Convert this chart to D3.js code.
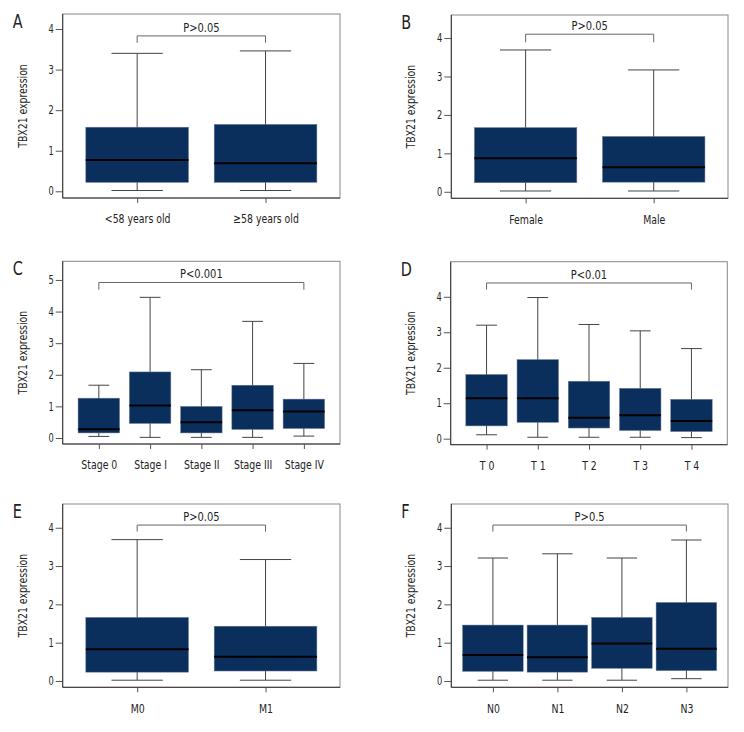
<!DOCTYPE html>
<html>
<head>
<meta charset="utf-8">
<script src="https://cdn.jsdelivr.net/npm/d3@7"></script>
<style>
  body { margin: 0; background: #fff; }
  text { font-family: "DejaVu Sans Condensed", "DejaVu Sans", sans-serif; fill: #222; }
</style>
</head>
<body>
<div id="chart"></div>
<script>
// Box plot values (TBX21 expression)
var catsA = ["<58 years old", "\u226558 years old"];
var lowA = [0.02, 0.02], q1A = [0.22, 0.22], medA = [0.77, 0.69], q3A = [1.58, 1.65], highA = [3.40, 3.46];

var catsB = ["Female", "Male"];
var lowB = [0.02, 0.02], q1B = [0.235, 0.25], medB = [0.87, 0.64], q3B = [1.67, 1.44], highB = [3.69, 3.17];

var catsC = ["Stage 0", "Stage I", "Stage II", "Stage III", "Stage IV"];
var lowC = [0.05, 0.02, 0.02, 0.02, 0.06], q1C = [0.16, 0.46, 0.16, 0.27, 0.30];
var medC = [0.28, 1.03, 0.50, 0.88, 0.84], q3C = [1.26, 2.09, 1.00, 1.67, 1.23];
var highC = [1.67, 4.45, 2.16, 3.69, 2.36];

var catsD = ["T 0", "T 1", "T 2", "T 3", "T 4"];
var lowD = [0.11, 0.04, 0.04, 0.04, 0.03], q1D = [0.36, 0.46, 0.30, 0.23, 0.20];
var medD = [1.14, 1.14, 0.59, 0.66, 0.50], q3D = [1.81, 2.23, 1.62, 1.42, 1.11];
var highD = [3.20, 3.98, 3.22, 3.04, 2.54];

var catsE = ["M0", "M1"];
var lowE = [0.02, 0.02], q1E = [0.23, 0.26], medE = [0.83, 0.63], q3E = [1.66, 1.43], highE = [3.69, 3.17];

var catsF = ["N0", "N1", "N2", "N3"];
var lowF = [0.02, 0.02, 0.02, 0.06], q1F = [0.25, 0.23, 0.33, 0.27];
var medF = [0.68, 0.62, 0.98, 0.84], q3F = [1.46, 1.46, 1.66, 2.05];
var highF = [3.21, 3.32, 3.21, 3.68];

var pLabels = ["P>0.05", "P>0.05", "P<0.001", "P<0.01", "P>0.05", "P>0.5"];
var bracketY = [3.83, 4.10, 4.92, 4.39, 4.07, 4.07];
var bracketLeg = [3.66, 3.89, 4.69, 4.20, 3.90, 3.90];
var yTickMax = [4, 4, 5, 4, 4, 4];

var svgWidth = 744;
var svgHeight = 732;

var svg = d3.select("#chart")
  .append("svg")
  .attr("width", svgWidth)
  .attr("height", svgHeight);

// frame of each panel plus the y domain that frame covers
var panels = [
  { id: "A", cats: catsA, low: lowA, q1: q1A, med: medA, q3: q3A, high: highA,
    x0: 62.7, x1: 340, y0: 14, y1: 198, dom: [-0.165, 4.37], pad: 0.58, boxW: 0.8 },
  { id: "B", cats: catsB, low: lowB, q1: q1B, med: medB, q3: q3B, high: highB,
    x0: 451.3, x1: 728, y0: 15, y1: 198.3, dom: [-0.17, 4.6], pad: 0.58, boxW: 0.8 },
  { id: "C", cats: catsC, low: lowC, q1: q1C, med: medC, q3: q3C, high: highC,
    x0: 62.7, x1: 340, y0: 261.3, y1: 444, dom: [-0.19, 5.59], pad: 0.705, boxW: 0.81 },
  { id: "D", cats: catsD, low: lowD, q1: q1D, med: medD, q3: q3D, high: highD,
    x0: 450.7, x1: 727.3, y0: 261.7, y1: 444.7, dom: [-0.17, 4.99], pad: 0.7, boxW: 0.81 },
  { id: "E", cats: catsE, low: lowE, q1: q1E, med: medE, q3: q3E, high: highE,
    x0: 62.7, x1: 340, y0: 504, y1: 687.3, dom: [-0.165, 4.62], pad: 0.58, boxW: 0.8 },
  { id: "F", cats: catsF, low: lowF, q1: q1F, med: medF, q3: q3F, high: highF,
    x0: 451.3, x1: 728, y0: 504, y1: 687.3, dom: [-0.165, 4.62], pad: 0.645, boxW: 0.94 }
];

var boxFill = "#0a2f5d";
var squeeze = 0.8; // the original uses a condensed face, so narrow the text

// squeeze text horizontally around its own anchor
function narrow(sel, k) {
  sel.each(function() {
    var t = d3.select(this);
    var xv = +t.attr("x") || 0;
    t.attr("x", xv / k).attr("transform", `scale(${k},1)`);
  });
}

panels.forEach(function(p, i) {
  var g = svg.append("g");

  var x = d3.scalePoint()
    .domain(p.cats)
    .range([p.x0, p.x1])
    .padding(p.pad);

  var y = d3.scaleLinear()
    .domain(p.dom)
    .range([p.y1, p.y0]);

  var bw = x.step() * p.boxW;

  // Panel letter
  g.append("text")
    .attr("transform", `translate(${p.x0 - 50}, ${p.y0 + 14}) scale(0.8,1)`)
    .attr("font-size", "20px")
    .text(p.id);

  // Y axis
  var leftAxis = d3.axisLeft(y)
    .tickValues(d3.range(0, yTickMax[i] + 1))
    .tickFormat(d3.format("d"))
    .tickSize(7)
    .tickPadding(2);

  var yAxis = g.append("g")
    .attr("transform", `translate(${p.x0}, 0)`)
    .call(leftAxis);
  yAxis.select(".domain").remove();
  yAxis.selectAll("line").attr("stroke", "#555");
  yAxis.selectAll("text").attr("font-size", "11.5px").attr("fill", "#222").call(narrow, squeeze);

  // X axis
  var bottomAxis = d3.axisBottom(x)
    .tickSize(5)
    .tickPadding(11);

  var xAxis = g.append("g")
    .attr("transform", `translate(0, ${p.y1})`)
    .call(bottomAxis);
  xAxis.select(".domain").remove();
  xAxis.selectAll("line").attr("stroke", "#555");
  xAxis.selectAll("text").attr("font-size", "13px").attr("fill", "#222").call(narrow, squeeze);

  // Y label
  g.append("text")
    .attr("transform", `translate(${p.x0 - 36}, ${(p.y0 + p.y1) / 2}) rotate(-90) scale(0.83,1)`)
    .attr("text-anchor", "middle")
    .attr("font-size", "12.5px")
    .text("TBX21 expression");

  var idx = d3.range(p.cats.length);

  // Whisker stems
  g.selectAll(".stem")
    .data(idx)
    .enter()
    .append("line")
    .attr("x1", d => x(p.cats[d]))
    .attr("x2", d => x(p.cats[d]))
    .attr("y1", d => y(p.low[d]))
    .attr("y2", d => y(p.high[d]))
    .attr("stroke", "#444")
    .attr("stroke-width", 1);

  // Whisker caps
  ["low", "high"].forEach(function(k) {
    g.selectAll(".cap-" + k)
      .data(idx)
      .enter()
      .append("line")
      .attr("x1", d => x(p.cats[d]) - bw / 4)
      .attr("x2", d => x(p.cats[d]) + bw / 4)
      .attr("y1", d => y(p[k][d]))
      .attr("y2", d => y(p[k][d]))
      .attr("stroke", "#444")
      .attr("stroke-width", 1);
  });

  // Boxes
  g.selectAll(".box")
    .data(idx)
    .enter()
    .append("rect")
    .attr("x", d => x(p.cats[d]) - bw / 2)
    .attr("width", bw)
    .attr("y", d => y(p.q3[d]))
    .attr("height", d => y(p.q1[d]) - y(p.q3[d]))
    .attr("fill", boxFill)
    .attr("stroke", "#6f8098")
    .attr("stroke-width", 0.5);

  // Medians
  g.selectAll(".median")
    .data(idx)
    .enter()
    .append("line")
    .attr("x1", d => x(p.cats[d]) - bw / 2)
    .attr("x2", d => x(p.cats[d]) + bw / 2)
    .attr("y1", d => y(p.med[d]))
    .attr("y2", d => y(p.med[d]))
    .attr("stroke", "#000")
    .attr("stroke-width", 2);

  // Frame
  g.append("rect")
    .attr("x", p.x0)
    .attr("y", p.y0)
    .attr("width", p.x1 - p.x0)
    .attr("height", p.y1 - p.y0)
    .attr("fill", "none")
    .attr("stroke", "#888")
    .attr("stroke-width", 1);
  g.append("line")
    .attr("x1", p.x0).attr("x2", p.x0)
    .attr("y1", p.y0).attr("y2", p.y1)
    .attr("stroke", "#333");
  g.append("line")
    .attr("x1", p.x0).attr("x2", p.x1)
    .attr("y1", p.y1).attr("y2", p.y1)
    .attr("stroke", "#333");

  // Significance bracket
  var bx0 = x(p.cats[0]);
  var bx1 = x(p.cats[p.cats.length - 1]);
  g.append("path")
    .attr("d", `M${bx0},${y(bracketLeg[i])}V${y(bracketY[i])}H${bx1}V${y(bracketLeg[i])}`)
    .attr("fill", "none")
    .attr("stroke", "#666")
    .attr("stroke-width", 1);

  g.append("text")
    .attr("x", (bx0 + bx1) / 2)
    .attr("y", y(bracketY[i]) - 4)
    .attr("text-anchor", "middle")
    .attr("font-size", "13px")
    .call(narrow, 0.85)
    .text(pLabels[i]);
});
</script>
</body>
</html>
